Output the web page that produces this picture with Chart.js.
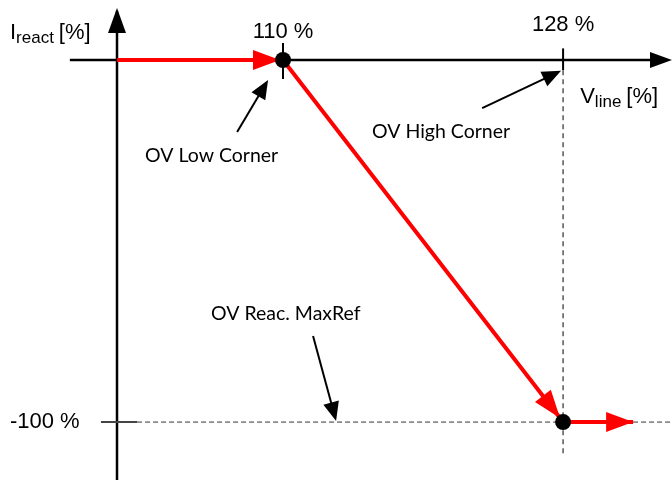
<!DOCTYPE html>
<html>
<head>
<meta charset="utf-8">
<script src="https://cdn.jsdelivr.net/npm/chart.js@4.4.0/dist/chart.umd.min.js"></script>
<style>
  html, body { margin: 0; background: #fff; }
</style>
</head>
<body>
<canvas id="myChart" width="672" height="480"></canvas>
<script>
// axis ranges (V_line % horizontally, I_react % vertically)
const xRange = [91.81, 135];
const yRange = [-116, 16.57];

// red characteristic
const pathV = [99.33, 110, 128, 132.5];
const pathI = [0, 0, -100, -100];

// corner points
const cornerV = [110, 128];
const cornerI = [0, -100];
const cornerLabels = ['110 %', '128 %'];
const cornerLabelI = [7.7, 9.7];

// y tick
const yTickValue = -100;
const yTickLabel = '-100 %';

// annotation notes
const noteTexts = ['OV Low Corner', 'OV High Corner', 'OV Reac. MaxRef'];
const noteV = [101.13, 115.72, 105.37];
const noteI = [-26.5, -19.9, -70.2];
const noteTailV = [107.05, 122.8, 111.93];
const noteTailI = [-19.9, -13.3, -76.2];
const noteTipV = [109.04, 127.87, 113.41];
const noteTipI = [-5.5, -3.0, -99.7];

function arrowHead(ctx, x1, y1, x2, y2, len, half, color) {
    const a = Math.atan2(y2 - y1, x2 - x1);
    ctx.save();
    ctx.fillStyle = color;
    ctx.beginPath();
    ctx.moveTo(x2, y2);
    ctx.lineTo(x2 - len * Math.cos(a) + half * Math.sin(a), y2 - len * Math.sin(a) - half * Math.cos(a));
    ctx.lineTo(x2 - len * Math.cos(a) - half * Math.sin(a), y2 - len * Math.sin(a) + half * Math.cos(a));
    ctx.closePath();
    ctx.fill();
    ctx.restore();
}

function line(ctx, x1, y1, x2, y2, w, color, dash) {
    ctx.save();
    ctx.strokeStyle = color;
    ctx.lineWidth = w;
    ctx.setLineDash(dash || []);
    ctx.beginPath();
    ctx.moveTo(x1, y1);
    ctx.lineTo(x2, y2);
    ctx.stroke();
    ctx.restore();
}

const diagramPlugin = {
    id: 'diagram',
    beforeDatasetsDraw(chart) {
        const ctx = chart.ctx;
        const x = chart.scales.x, y = chart.scales.y;
        const x0 = x.getPixelForValue(pathV[0]);
        const y0 = y.getPixelForValue(0);
        // axes
        line(ctx, x0, y.getPixelForValue(yRange[1] - 3), x0, y.bottom, 2.5, '#000');
        arrowHead(ctx, x0, y.bottom, x0, y.getPixelForValue(yRange[1] - 2.2), 25, 9, '#000');
        line(ctx, x.getPixelForValue(96.3), y0, x.right - 10, y0, 2.5, '#000');
        arrowHead(ctx, x.left, y0, x.right, y0, 22, 8, '#000');
        // corner ticks
        const cx1 = x.getPixelForValue(cornerV[0]);
        line(ctx, cx1, y.getPixelForValue(4.7), cx1, y.getPixelForValue(-5.25), 2, '#000');
        const cx2 = x.getPixelForValue(cornerV[1]);
        line(ctx, cx2, y.getPixelForValue(3.2), cx2, y.getPixelForValue(-2.8), 2, '#000');
        // y tick at -100
        const yt = y.getPixelForValue(yTickValue);
        line(ctx, x.getPixelForValue(98.3), yt, x.getPixelForValue(100.62), yt, 2, '#444');
    },
    afterDatasetDraw(chart, args) {
        if (args.index !== 1) return;
        const ctx = chart.ctx;
        const x = chart.scales.x, y = chart.scales.y;
        const backoff = [3, 5, 0];
        for (let i = 1; i < pathV.length; i++) {
            const x1 = x.getPixelForValue(pathV[i - 1]), y1 = y.getPixelForValue(pathI[i - 1]);
            const x2 = x.getPixelForValue(pathV[i]), y2 = y.getPixelForValue(pathI[i]);
            const a = Math.atan2(y2 - y1, x2 - x1);
            const b = backoff[i - 1];
            arrowHead(ctx, x1, y1, x2 - b * Math.cos(a), y2 - b * Math.sin(a), i === 2 ? 28 : 27, 10, '#ff0000');
        }
    },
    afterDatasetsDraw(chart) {
        const ctx = chart.ctx;
        const x = chart.scales.x, y = chart.scales.y;
        // annotation arrows
        for (let i = 0; i < noteTexts.length; i++) {
            const x1 = x.getPixelForValue(noteTailV[i]), y1 = y.getPixelForValue(noteTailI[i]);
            const x2 = x.getPixelForValue(noteTipV[i]), y2 = y.getPixelForValue(noteTipI[i]);
            const a = Math.atan2(y2 - y1, x2 - x1);
            line(ctx, x1, y1, x2 - 10 * Math.cos(a), y2 - 10 * Math.sin(a), 2, '#000');
            arrowHead(ctx, x1, y1, x2, y2, 19, 8, '#000');
        }
        ctx.save();
        ctx.fillStyle = '#000';
        ctx.textBaseline = 'middle';
        // note labels
        ctx.font = '19.5px Lato';
        ctx.textAlign = 'left';
        noteTexts.forEach((t, i) => {
            ctx.fillText(t, x.getPixelForValue(noteV[i]), y.getPixelForValue(noteI[i]));
        });
        // corner value labels
        ctx.font = '22px "Liberation Sans"';
        ctx.textAlign = 'center';
        cornerLabels.forEach((t, i) => {
            ctx.fillText(t, x.getPixelForValue(cornerV[i]), y.getPixelForValue(cornerLabelI[i]));
        });
        ctx.textAlign = 'left';
        ctx.fillText(yTickLabel, x.getPixelForValue(92.45), y.getPixelForValue(yTickValue));
        // axis titles with subscripts
        ctx.textBaseline = 'alphabetic';
        const drawSub = (main, sub, rest, px, py) => {
            ctx.font = '22px "Liberation Sans"';
            ctx.fillText(main, px, py);
            px += ctx.measureText(main).width;
            ctx.font = '17px "Liberation Sans"';
            ctx.fillText(sub, px, py + 4);
            px += ctx.measureText(sub).width + 5;
            ctx.font = '22px "Liberation Sans"';
            ctx.fillText(rest, px, py);
        };
        drawSub('I', 'react', '[%]', x.getPixelForValue(92.45), y.getPixelForValue(5.7));
        drawSub('V', 'line', '[%]', x.getPixelForValue(129.1), y.getPixelForValue(-11.9));
        ctx.restore();
    }
};

const ctx = document.getElementById('myChart').getContext('2d');
const myChart = new Chart(ctx, {
    type: 'scatter',
    data: {
        datasets: [
            {
                label: 'corners',
                data: cornerV.map((v, i) => ({ x: v, y: cornerI[i] })),
                pointRadius: 8,
                pointBackgroundColor: '#000',
                pointBorderWidth: 0,
                showLine: false
            },
            {
                label: 'characteristic',
                data: pathV.map((v, i) => ({ x: v, y: pathI[i] })),
                showLine: true,
                borderColor: '#ff0000',
                borderWidth: 4,
                pointRadius: 0
            },
            {
                label: 'high corner guide',
                data: [{ x: cornerV[1], y: -2.8 }, { x: cornerV[1], y: -108.6 }],
                showLine: true,
                borderColor: '#555',
                borderWidth: 1.5,
                borderDash: [5, 4],
                pointRadius: 0
            },
            {
                label: 'max ref guide',
                data: [{ x: 100.62, y: yTickValue }, { x: xRange[1], y: yTickValue }],
                showLine: true,
                borderColor: '#333',
                borderWidth: 1,
                borderDash: [5, 3],
                pointRadius: 0
            }
        ]
    },
    options: {
        responsive: false,
        animation: false,
        clip: false,
        layout: { padding: 0, autoPadding: false },
        plugins: { legend: { display: false }, tooltip: { enabled: false } },
        scales: {
            x: { type: 'linear', display: false, min: xRange[0], max: xRange[1] },
            y: { type: 'linear', display: false, min: yRange[0], max: yRange[1] }
        }
    },
    plugins: [diagramPlugin]
});
</script>
</body>
</html>
